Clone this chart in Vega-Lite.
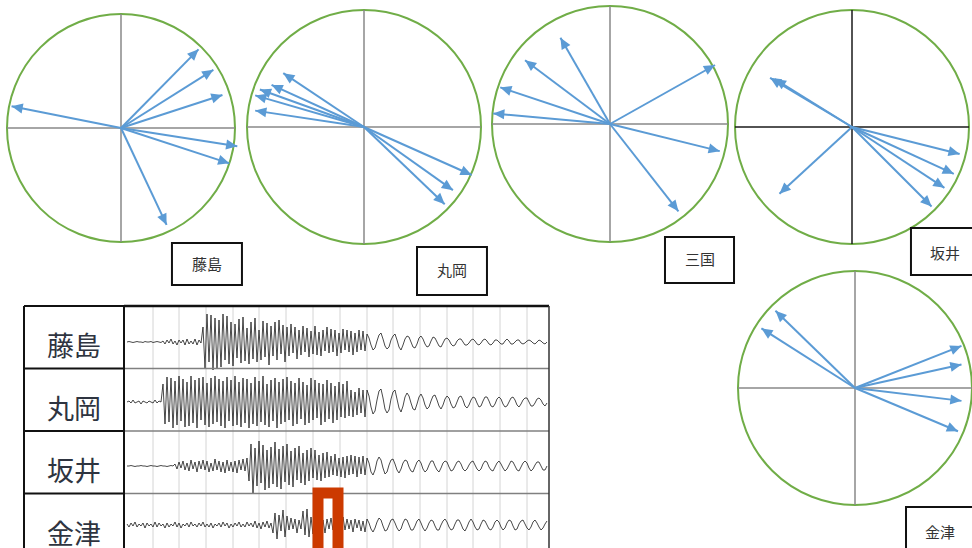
{
"$schema":"https://vega.github.io/schema/vega-lite/v6.json",
"width":972,"height":548,"autosize":{"type":"none"},"padding":0,"background":"white",
"config":{"view":{"stroke":null},"axis":{"disable":true},"font":"Noto Sans CJK JP"},
"datasets":{
"arrows":[
{"station":"藤島","x":0.68,"y":0.69,"az":45},{"station":"藤島","x":0.81,"y":0.51,"az":58},{"station":"藤島","x":0.89,"y":0.29,"az":72},{"station":"藤島","x":1.02,"y":-0.16,"az":99},{"station":"藤島","x":0.95,"y":-0.31,"az":108},{"station":"藤島","x":0.40,"y":-0.85,"az":155},{"station":"藤島","x":-0.96,"y":0.19,"az":281},
{"station":"丸岡","x":-0.69,"y":0.46,"az":304},{"station":"丸岡","x":-0.79,"y":0.36,"az":295},{"station":"丸岡","x":-0.89,"y":0.32,"az":290},{"station":"丸岡","x":-0.93,"y":0.27,"az":286},{"station":"丸岡","x":-0.93,"y":0.14,"az":279},{"station":"丸岡","x":0.92,"y":-0.41,"az":114},{"station":"丸岡","x":0.76,"y":-0.54,"az":125},{"station":"丸岡","x":0.69,"y":-0.66,"az":134},
{"station":"三国","x":-0.42,"y":0.73,"az":330},{"station":"三国","x":-0.72,"y":0.54,"az":307},{"station":"三国","x":-0.93,"y":0.31,"az":288},{"station":"三国","x":-0.99,"y":0.09,"az":275},{"station":"三国","x":0.89,"y":0.50,"az":61},{"station":"三国","x":0.93,"y":-0.23,"az":104},{"station":"三国","x":0.58,"y":-0.74,"az":142},
{"station":"坂井","x":-0.70,"y":0.42,"az":301},{"station":"坂井","x":-0.66,"y":0.41,"az":302},{"station":"坂井","x":-0.62,"y":-0.57,"az":227},{"station":"坂井","x":0.92,"y":-0.23,"az":104},{"station":"坂井","x":0.87,"y":-0.40,"az":115},{"station":"坂井","x":0.79,"y":-0.52,"az":123},{"station":"坂井","x":0.68,"y":-0.68,"az":135},
{"station":"金津","x":-0.68,"y":0.66,"az":314},{"station":"金津","x":-0.80,"y":0.51,"az":303},{"station":"金津","x":0.91,"y":0.36,"az":68},{"station":"金津","x":0.91,"y":0.20,"az":78},{"station":"金津","x":0.91,"y":-0.11,"az":97},{"station":"金津","x":0.88,"y":-0.37,"az":113}
],
"table":[{"station":"藤島","row":0},{"station":"丸岡","row":1},{"station":"坂井","row":2},{"station":"金津","row":3}],
"grid":[{"t":13},{"t":26},{"t":39.5},{"t":53},{"t":66},{"t":79.5},{"t":93},{"t":106.5},{"t":120},{"t":133},{"t":146.5},{"t":160},{"t":173},{"t":186.5},{"t":200}],
"traces":[
{"t":0,"a":0,"b":0,"c":0,"d":1},{"t":1,"a":0.5,"b":1,"c":0,"d":-2},{"t":2,"a":0,"b":-1,"c":0.5,"d":2},{"t":3,"a":-0.5,"b":2,"c":0,"d":-1},{"t":4,"a":0,"b":-1,"c":-0.5,"d":3},{"t":5,"a":0.5,"b":0,"c":0,"d":-2},{"t":6,"a":0,"b":1,"c":0,"d":1},{"t":7,"a":0,"b":-2,"c":0.5,"d":-1},{"t":8,"a":-0.5,"b":1,"c":0,"d":2},{"t":9,"a":0.5,"b":0,"c":0,"d":-3},
{"t":10,"a":0,"b":-1,"c":-0.5,"d":2},{"t":11,"a":0,"b":1,"c":0,"d":-1},{"t":12,"a":0.5,"b":0,"c":0.5,"d":1},{"t":13,"a":-0.5,"b":-1,"c":0,"d":-2},{"t":14,"a":0,"b":2,"c":0,"d":3},{"t":15,"a":0.5,"b":-1,"c":-0.5,"d":-2},{"t":16,"a":0,"b":1,"c":0,"d":2},{"t":17,"a":-0.5,"b":0,"c":0.5,"d":-1},{"t":18,"a":1,"b":18,"c":0,"d":1},{"t":19,"a":-2,"b":-22,"c":0,"d":-3},
{"t":20,"a":2,"b":25,"c":-0.5,"d":2},{"t":21,"a":-1,"b":-20,"c":0,"d":-2},{"t":22,"a":3,"b":24,"c":0.5,"d":1},{"t":23,"a":-2,"b":-26,"c":0,"d":-1},{"t":24,"a":1,"b":21,"c":2,"d":3},{"t":25,"a":-3,"b":-23,"c":-3,"d":-2},{"t":26,"a":2,"b":26,"c":4,"d":2},{"t":27,"a":-1,"b":-19,"c":-2,"d":-3},{"t":28,"a":2,"b":23,"c":5,"d":1},{"t":29,"a":-3,"b":-25,"c":-4,"d":-1},
{"t":30,"a":3,"b":20,"c":3,"d":2},{"t":31,"a":-2,"b":-24,"c":-5,"d":-2},{"t":32,"a":1,"b":26,"c":6,"d":3},{"t":33,"a":-2,"b":-21,"c":-3,"d":-1},{"t":34,"a":3,"b":22,"c":4,"d":1},{"t":35,"a":-3,"b":-26,"c":-6,"d":-2},{"t":36,"a":2,"b":24,"c":5,"d":2},{"t":37,"a":-1,"b":-18,"c":-3,"d":-1},{"t":38,"a":15,"b":25,"c":6,"d":3},{"t":39,"a":-26,"b":-23,"c":-4,"d":-2},
{"t":40,"a":28,"b":19,"c":5,"d":1},{"t":41,"a":-20,"b":-25,"c":-6,"d":-2},{"t":42,"a":27,"b":24,"c":3,"d":2},{"t":43,"a":-28,"b":-22,"c":-5,"d":-3},{"t":44,"a":24,"b":26,"c":7,"d":1},{"t":45,"a":-27,"b":-20,"c":-4,"d":-1},{"t":46,"a":22,"b":23,"c":5,"d":2},{"t":47,"a":-25,"b":-24,"c":-6,"d":-2},{"t":48,"a":28,"b":21,"c":4,"d":3},{"t":49,"a":-18,"b":-26,"c":-7,"d":-1},
{"t":50,"a":26,"b":25,"c":6,"d":2},{"t":51,"a":-22,"b":-19,"c":-5,"d":-3},{"t":52,"a":20,"b":22,"c":4,"d":1},{"t":53,"a":-24,"b":-24,"c":-6,"d":-2},{"t":54,"a":18,"b":26,"c":5,"d":2},{"t":55,"a":-16,"b":-23,"c":-7,"d":-1},{"t":56,"a":23,"b":20,"c":6,"d":3},{"t":57,"a":-21,"b":-25,"c":-4,"d":-2},{"t":58,"a":25,"b":24,"c":7,"d":1},{"t":59,"a":-19,"b":-21,"c":-5,"d":-2},
{"t":60,"a":14,"b":23,"c":8,"d":3},{"t":61,"a":-22,"b":-26,"c":-15,"d":-1},{"t":62,"a":20,"b":19,"c":22,"d":2},{"t":63,"a":-17,"b":-22,"c":-28,"d":-2},{"t":64,"a":24,"b":25,"c":18,"d":4},{"t":65,"a":-20,"b":-24,"c":-20,"d":-3},{"t":66,"a":12,"b":21,"c":25,"d":2},{"t":67,"a":-18,"b":-20,"c":-17,"d":-4},{"t":68,"a":21,"b":26,"c":21,"d":3},{"t":69,"a":-15,"b":-23,"c":-24,"d":-2},
{"t":70,"a":19,"b":18,"c":16,"d":4},{"t":71,"a":-23,"b":-25,"c":-22,"d":-3},{"t":72,"a":16,"b":22,"c":19,"d":2},{"t":73,"a":-14,"b":-19,"c":-18,"d":-8},{"t":74,"a":20,"b":24,"c":24,"d":12},{"t":75,"a":-18,"b":-26,"c":-21,"d":-14},{"t":76,"a":22,"b":20,"c":17,"d":10},{"t":77,"a":-12,"b":-22,"c":-23,"d":-6},{"t":78,"a":17,"b":23,"c":20,"d":15},{"t":79,"a":-20,"b":-20,"c":-16,"d":-12},
{"t":80,"a":15,"b":25,"c":22,"d":9},{"t":81,"a":-14,"b":-18,"c":-19,"d":-5},{"t":82,"a":18,"b":21,"c":15,"d":7},{"t":83,"a":-11,"b":-24,"c":-21,"d":-4},{"t":84,"a":15,"b":19,"c":18,"d":6},{"t":85,"a":-17,"b":-22,"c":-14,"d":-8},{"t":86,"a":12,"b":24,"c":20,"d":5},{"t":87,"a":-13,"b":-17,"c":-17,"d":-4},{"t":88,"a":16,"b":20,"c":13,"d":14},{"t":89,"a":-10,"b":-23,"c":-19,"d":-10},
{"t":90,"a":14,"b":17,"c":16,"d":16},{"t":91,"a":-15,"b":-21,"c":-15,"d":-12},{"t":92,"a":11,"b":24,"c":18,"d":8},{"t":93,"a":-12,"b":-18,"c":-12,"d":-9},{"t":94,"a":16,"b":22,"c":16,"d":6},{"t":95,"a":-13,"b":-16,"c":-14,"d":-5},{"t":96,"a":10,"b":19,"c":11,"d":7},{"t":97,"a":-14,"b":-23,"c":-15,"d":-6},{"t":98,"a":12,"b":18,"c":13,"d":5},{"t":99,"a":-9,"b":-20,"c":-12,"d":-8},
{"t":100,"a":15,"b":22,"c":14,"d":6},{"t":101,"a":-11,"b":-17,"c":-11,"d":-4},{"t":102,"a":13,"b":19,"c":10,"d":7},{"t":103,"a":-10,"b":-21,"c":-9,"d":-5},{"t":104,"a":12,"b":16,"c":12,"d":6},{"t":105,"a":-14,"b":-18,"c":-10,"d":-7},{"t":106,"a":9,"b":20,"c":8,"d":4},{"t":107,"a":-11,"b":-15,"c":-11,"d":-6},{"t":108,"a":13,"b":18,"c":9,"d":8},{"t":109,"a":-8,"b":-16,"c":-12,"d":-5},
{"t":110,"a":12,"b":21,"c":10,"d":6},{"t":111,"a":-10,"b":-14,"c":-9,"d":-4},{"t":112,"a":11,"b":12,"c":11,"d":5},{"t":113,"a":-13,"b":-15,"c":-8,"d":-7},{"t":114,"a":9,"b":10,"c":10,"d":6},{"t":115,"a":-10,"b":-13,"c":-11,"d":-3},{"t":116,"a":12,"b":14,"c":9,"d":5},{"t":117,"a":-8,"b":-11,"c":-8,"d":-6},{"t":118,"a":11,"b":12,"c":10,"d":4},{"t":119,"a":-9,"b":-15,"c":-9,"d":-7},
{"t":120,"a":8,"b":12,"c":8,"d":6},{"t":121,"a":4,"b":6,"c":3,"d":2},{"t":122,"a":-3,"b":-5,"c":-6,"d":-4},{"t":123,"a":-8,"b":-12,"c":-9,"d":-7},{"t":124,"a":-6,"b":-9,"c":-4,"d":-3},{"t":125,"a":1,"b":2,"c":5,"d":3},{"t":126,"a":7,"b":11,"c":9,"d":7},{"t":127,"a":9,"b":13,"c":6,"d":5},{"t":128,"a":3,"b":4,"c":-2,"d":-1},{"t":129,"a":-4,"b":-7,"c":-8,"d":-6},
{"t":130,"a":-7,"b":-11,"c":-6,"d":-5},{"t":131,"a":-5,"b":-8,"c":1,"d":0},{"t":132,"a":2,"b":3,"c":6,"d":5},{"t":133,"a":6,"b":10,"c":7,"d":6},{"t":134,"a":8,"b":12,"c":2,"d":2},{"t":135,"a":2,"b":3,"c":-4,"d":-3},{"t":136,"a":-5,"b":-6,"c":-7,"d":-6},{"t":137,"a":-8,"b":-10,"c":-3,"d":-4},{"t":138,"a":-3,"b":-4,"c":3,"d":2},{"t":139,"a":3,"b":5,"c":6,"d":6},
{"t":140,"a":6,"b":9,"c":5,"d":5},{"t":141,"a":5,"b":6,"c":-1,"d":0},{"t":142,"a":0,"b":-1,"c":-5,"d":-5},{"t":143,"a":-5,"b":-7,"c":-6,"d":-5},{"t":144,"a":-6,"b":-8,"c":-1,"d":-1},{"t":145,"a":-2,"b":-2,"c":4,"d":4},{"t":146,"a":4,"b":5,"c":6,"d":6},{"t":147,"a":6,"b":8,"c":3,"d":2},{"t":148,"a":3,"b":4,"c":-3,"d":-3},{"t":149,"a":-2,"b":-3,"c":-6,"d":-6},
{"t":150,"a":-5,"b":-7,"c":-4,"d":-3},{"t":151,"a":-4,"b":-5,"c":1,"d":2},{"t":152,"a":1,"b":1,"c":5,"d":5},{"t":153,"a":5,"b":6,"c":5,"d":4},{"t":154,"a":4,"b":7,"c":0,"d":-1},{"t":155,"a":0,"b":2,"c":-4,"d":-5},{"t":156,"a":-4,"b":-4,"c":-6,"d":-5},{"t":157,"a":-5,"b":-7,"c":-2,"d":0},{"t":158,"a":-1,"b":-3,"c":3,"d":4},{"t":159,"a":3,"b":3,"c":5,"d":6},
{"t":160,"a":4,"b":6,"c":4,"d":3},{"t":161,"a":2,"b":4,"c":-1,"d":-2},{"t":162,"a":-2,"b":-2,"c":-5,"d":-5},{"t":163,"a":-4,"b":-6,"c":-4,"d":-4},{"t":164,"a":-3,"b":-5,"c":0,"d":1},{"t":165,"a":1,"b":0,"c":4,"d":5},{"t":166,"a":3,"b":5,"c":5,"d":5},{"t":167,"a":3,"b":6,"c":2,"d":1},{"t":168,"a":0,"b":2,"c":-3,"d":-4},{"t":169,"a":-3,"b":-4,"c":-5,"d":-6},
{"t":170,"a":-3,"b":-6,"c":-3,"d":-2},{"t":171,"a":-1,"b":-3,"c":1,"d":3},{"t":172,"a":2,"b":2,"c":4,"d":6},{"t":173,"a":3,"b":5,"c":5,"d":3},{"t":174,"a":1,"b":4,"c":1,"d":-2},{"t":175,"a":-2,"b":-1,"c":-3,"d":-5},{"t":176,"a":-3,"b":-5,"c":-5,"d":-4},{"t":177,"a":-1,"b":-4,"c":-3,"d":1},{"t":178,"a":2,"b":1,"c":2,"d":5},{"t":179,"a":3,"b":5,"c":5,"d":4},
{"t":180,"a":1,"b":5,"c":4,"d":0},{"t":181,"a":-2,"b":1,"c":-1,"d":-4},{"t":182,"a":-3,"b":-4,"c":-4,"d":-5},{"t":183,"a":-1,"b":-5,"c":-5,"d":-2},{"t":184,"a":2,"b":-2,"c":-1,"d":3},{"t":185,"a":2,"b":3,"c":3,"d":5},{"t":186,"a":0,"b":5,"c":5,"d":3},{"t":187,"a":-2,"b":3,"c":2,"d":-2},{"t":188,"a":-2,"b":-2,"c":-2,"d":-5},{"t":189,"a":1,"b":-5,"c":-5,"d":-3},
{"t":190,"a":3,"b":-4,"c":-3,"d":2},{"t":191,"a":1,"b":0,"c":1,"d":5},{"t":192,"a":-2,"b":4,"c":5,"d":4},{"t":193,"a":-2,"b":5,"c":4,"d":-1},{"t":194,"a":0,"b":2,"c":0,"d":-5},{"t":195,"a":2,"b":-3,"c":-4,"d":-4},{"t":196,"a":2,"b":-5,"c":-5,"d":1},{"t":197,"a":-1,"b":-2,"c":-1,"d":4},{"t":198,"a":-2,"b":2,"c":3,"d":5},{"t":199,"a":-1,"b":4,"c":5,"d":1},
{"t":200,"a":1,"b":4,"c":3,"d":-3},{"t":201,"a":2,"b":0,"c":-2,"d":-5},{"t":202,"a":1,"b":-4,"c":-5,"d":-2},{"t":203,"a":-1,"b":-4,"c":-3,"d":3},{"t":204,"a":-2,"b":-1,"c":1,"d":5},{"t":205,"a":0,"b":3,"c":4,"d":2},{"t":206,"a":2,"b":4,"c":4,"d":-2},{"t":207,"a":1,"b":2,"c":0,"d":-5},{"t":208,"a":-1,"b":-2,"c":-4,"d":-3},{"t":209,"a":-2,"b":-4,"c":-4,"d":1},{"t":210,"a":0,"b":-1,"c":0,"d":4}
]
},
"resolve":{"scale":{"x":"independent","y":"independent"}},
"layer":[
{"layer":[
 {"data":{"values":[{}]},"mark":{"type":"point","shape":"circle","size":51984,"filled":false,"color":"#70AD47","strokeWidth":2,"opacity":1},"encoding":{"x":{"datum":0,"type":"quantitative","scale":{"domain":[-1,1],"range":[7,235],"nice":false,"zero":false}},"y":{"datum":0,"type":"quantitative","scale":{"domain":[-1,1],"range":[242,14],"nice":false,"zero":false}}}},
 {"data":{"values":[{}]},"mark":{"type":"rule","color":"#888888","strokeWidth":1.5},"encoding":{"x":{"datum":-1,"type":"quantitative","scale":{"domain":[-1,1],"range":[7,235],"nice":false,"zero":false}},"x2":{"datum":1},"y":{"datum":0,"type":"quantitative","scale":{"domain":[-1,1],"range":[242,14],"nice":false,"zero":false}}}},
 {"data":{"values":[{}]},"mark":{"type":"rule","color":"#888888","strokeWidth":1.5},"encoding":{"x":{"datum":0,"type":"quantitative","scale":{"domain":[-1,1],"range":[7,235],"nice":false,"zero":false}},"y":{"datum":-1,"type":"quantitative","scale":{"domain":[-1,1],"range":[242,14],"nice":false,"zero":false}},"y2":{"datum":1}}},
 {"data":{"name":"arrows"},"transform":[{"filter":"datum.station === '藤島'"}],"mark":{"type":"rule","color":"#5B9BD5","strokeWidth":2},"encoding":{"x":{"field":"x","type":"quantitative","scale":{"domain":[-1,1],"range":[7,235],"nice":false,"zero":false}},"x2":{"datum":0},"y":{"field":"y","type":"quantitative","scale":{"domain":[-1,1],"range":[242,14],"nice":false,"zero":false}},"y2":{"datum":0}}},
 {"data":{"name":"arrows"},"transform":[{"filter":"datum.station === '藤島'"}],"mark":{"type":"point","shape":"M0,0L-0.45,1L0.45,1Z","size":500,"filled":true,"color":"#5B9BD5","opacity":1},"encoding":{"x":{"field":"x","type":"quantitative","scale":{"domain":[-1,1],"range":[7,235],"nice":false,"zero":false}},"y":{"field":"y","type":"quantitative","scale":{"domain":[-1,1],"range":[242,14],"nice":false,"zero":false}},"angle":{"field":"az","type":"quantitative","scale":null}}},
 {"data":{"values":[{}]},"mark":{"type":"rect","fill":"white","stroke":"#111111","strokeWidth":2},"encoding":{"x":{"datum":0.447,"type":"quantitative","scale":{"domain":[-1,1],"range":[7,235],"nice":false,"zero":false}},"x2":{"datum":1.061},"y":{"datum":-1.009,"type":"quantitative","scale":{"domain":[-1,1],"range":[242,14],"nice":false,"zero":false}},"y2":{"datum":-1.377}}},
 {"data":{"values":[{"station":"藤島"}]},"mark":{"type":"text","fontSize":15,"color":"#333333","align":"center","baseline":"middle"},"encoding":{"x":{"datum":0.754,"type":"quantitative","scale":{"domain":[-1,1],"range":[7,235],"nice":false,"zero":false}},"y":{"datum":-1.2,"type":"quantitative","scale":{"domain":[-1,1],"range":[242,14],"nice":false,"zero":false}},"text":{"field":"station"}}}
]},
{"layer":[
 {"data":{"values":[{}]},"mark":{"type":"point","shape":"circle","size":54756,"filled":false,"color":"#70AD47","strokeWidth":2,"opacity":1},"encoding":{"x":{"datum":0,"type":"quantitative","scale":{"domain":[-1,1],"range":[247,481],"nice":false,"zero":false}},"y":{"datum":0,"type":"quantitative","scale":{"domain":[-1,1],"range":[244,10],"nice":false,"zero":false}}}},
 {"data":{"values":[{}]},"mark":{"type":"rule","color":"#888888","strokeWidth":1.5},"encoding":{"x":{"datum":-1,"type":"quantitative","scale":{"domain":[-1,1],"range":[247,481],"nice":false,"zero":false}},"x2":{"datum":1},"y":{"datum":0,"type":"quantitative","scale":{"domain":[-1,1],"range":[244,10],"nice":false,"zero":false}}}},
 {"data":{"values":[{}]},"mark":{"type":"rule","color":"#888888","strokeWidth":1.5},"encoding":{"x":{"datum":0,"type":"quantitative","scale":{"domain":[-1,1],"range":[247,481],"nice":false,"zero":false}},"y":{"datum":-1,"type":"quantitative","scale":{"domain":[-1,1],"range":[244,10],"nice":false,"zero":false}},"y2":{"datum":1}}},
 {"data":{"name":"arrows"},"transform":[{"filter":"datum.station === '丸岡'"}],"mark":{"type":"rule","color":"#5B9BD5","strokeWidth":2},"encoding":{"x":{"field":"x","type":"quantitative","scale":{"domain":[-1,1],"range":[247,481],"nice":false,"zero":false}},"x2":{"datum":0},"y":{"field":"y","type":"quantitative","scale":{"domain":[-1,1],"range":[244,10],"nice":false,"zero":false}},"y2":{"datum":0}}},
 {"data":{"name":"arrows"},"transform":[{"filter":"datum.station === '丸岡'"}],"mark":{"type":"point","shape":"M0,0L-0.45,1L0.45,1Z","size":500,"filled":true,"color":"#5B9BD5","opacity":1},"encoding":{"x":{"field":"x","type":"quantitative","scale":{"domain":[-1,1],"range":[247,481],"nice":false,"zero":false}},"y":{"field":"y","type":"quantitative","scale":{"domain":[-1,1],"range":[244,10],"nice":false,"zero":false}},"angle":{"field":"az","type":"quantitative","scale":null}}},
 {"data":{"values":[{}]},"mark":{"type":"rect","fill":"white","stroke":"#111111","strokeWidth":2},"encoding":{"x":{"datum":0.453,"type":"quantitative","scale":{"domain":[-1,1],"range":[247,481],"nice":false,"zero":false}},"x2":{"datum":1.051},"y":{"datum":-1.026,"type":"quantitative","scale":{"domain":[-1,1],"range":[244,10],"nice":false,"zero":false}},"y2":{"datum":-1.436}}},
 {"data":{"values":[{"station":"丸岡"}]},"mark":{"type":"text","fontSize":15,"color":"#333333","align":"center","baseline":"middle"},"encoding":{"x":{"datum":0.752,"type":"quantitative","scale":{"domain":[-1,1],"range":[247,481],"nice":false,"zero":false}},"y":{"datum":-1.231,"type":"quantitative","scale":{"domain":[-1,1],"range":[244,10],"nice":false,"zero":false}},"text":{"field":"station"}}}
]},
{"layer":[
 {"data":{"values":[{}]},"mark":{"type":"point","shape":"circle","size":55696,"filled":false,"color":"#70AD47","strokeWidth":2,"opacity":1},"encoding":{"x":{"datum":0,"type":"quantitative","scale":{"domain":[-1,1],"range":[492,728],"nice":false,"zero":false}},"y":{"datum":0,"type":"quantitative","scale":{"domain":[-1,1],"range":[242,6],"nice":false,"zero":false}}}},
 {"data":{"values":[{}]},"mark":{"type":"rule","color":"#888888","strokeWidth":1.5},"encoding":{"x":{"datum":-1,"type":"quantitative","scale":{"domain":[-1,1],"range":[492,728],"nice":false,"zero":false}},"x2":{"datum":1},"y":{"datum":0,"type":"quantitative","scale":{"domain":[-1,1],"range":[242,6],"nice":false,"zero":false}}}},
 {"data":{"values":[{}]},"mark":{"type":"rule","color":"#888888","strokeWidth":1.5},"encoding":{"x":{"datum":0,"type":"quantitative","scale":{"domain":[-1,1],"range":[492,728],"nice":false,"zero":false}},"y":{"datum":-1,"type":"quantitative","scale":{"domain":[-1,1],"range":[242,6],"nice":false,"zero":false}},"y2":{"datum":1}}},
 {"data":{"name":"arrows"},"transform":[{"filter":"datum.station === '三国'"}],"mark":{"type":"rule","color":"#5B9BD5","strokeWidth":2},"encoding":{"x":{"field":"x","type":"quantitative","scale":{"domain":[-1,1],"range":[492,728],"nice":false,"zero":false}},"x2":{"datum":0},"y":{"field":"y","type":"quantitative","scale":{"domain":[-1,1],"range":[242,6],"nice":false,"zero":false}},"y2":{"datum":0}}},
 {"data":{"name":"arrows"},"transform":[{"filter":"datum.station === '三国'"}],"mark":{"type":"point","shape":"M0,0L-0.45,1L0.45,1Z","size":500,"filled":true,"color":"#5B9BD5","opacity":1},"encoding":{"x":{"field":"x","type":"quantitative","scale":{"domain":[-1,1],"range":[492,728],"nice":false,"zero":false}},"y":{"field":"y","type":"quantitative","scale":{"domain":[-1,1],"range":[242,6],"nice":false,"zero":false}},"angle":{"field":"az","type":"quantitative","scale":null}}},
 {"data":{"values":[{}]},"mark":{"type":"rect","fill":"white","stroke":"#111111","strokeWidth":2},"encoding":{"x":{"datum":0.466,"type":"quantitative","scale":{"domain":[-1,1],"range":[492,728],"nice":false,"zero":false}},"x2":{"datum":1.051},"y":{"datum":-0.958,"type":"quantitative","scale":{"domain":[-1,1],"range":[242,6],"nice":false,"zero":false}},"y2":{"datum":-1.347}}},
 {"data":{"values":[{"station":"三国"}]},"mark":{"type":"text","fontSize":15,"color":"#333333","align":"center","baseline":"middle"},"encoding":{"x":{"datum":0.763,"type":"quantitative","scale":{"domain":[-1,1],"range":[492,728],"nice":false,"zero":false}},"y":{"datum":-1.153,"type":"quantitative","scale":{"domain":[-1,1],"range":[242,6],"nice":false,"zero":false}},"text":{"field":"station"}}}
]},
{"layer":[
 {"data":{"values":[{}]},"mark":{"type":"point","shape":"circle","size":54756,"filled":false,"color":"#70AD47","strokeWidth":2,"opacity":1},"encoding":{"x":{"datum":0,"type":"quantitative","scale":{"domain":[-1,1],"range":[735,969],"nice":false,"zero":false}},"y":{"datum":0,"type":"quantitative","scale":{"domain":[-1,1],"range":[244,10],"nice":false,"zero":false}}}},
 {"data":{"values":[{}]},"mark":{"type":"rule","color":"#1a1a1a","strokeWidth":1.5},"encoding":{"x":{"datum":-1,"type":"quantitative","scale":{"domain":[-1,1],"range":[735,969],"nice":false,"zero":false}},"x2":{"datum":1},"y":{"datum":0,"type":"quantitative","scale":{"domain":[-1,1],"range":[244,10],"nice":false,"zero":false}}}},
 {"data":{"values":[{}]},"mark":{"type":"rule","color":"#1a1a1a","strokeWidth":1.5},"encoding":{"x":{"datum":0,"type":"quantitative","scale":{"domain":[-1,1],"range":[735,969],"nice":false,"zero":false}},"y":{"datum":-1,"type":"quantitative","scale":{"domain":[-1,1],"range":[244,10],"nice":false,"zero":false}},"y2":{"datum":1}}},
 {"data":{"name":"arrows"},"transform":[{"filter":"datum.station === '坂井'"}],"mark":{"type":"rule","color":"#5B9BD5","strokeWidth":2},"encoding":{"x":{"field":"x","type":"quantitative","scale":{"domain":[-1,1],"range":[735,969],"nice":false,"zero":false}},"x2":{"datum":0},"y":{"field":"y","type":"quantitative","scale":{"domain":[-1,1],"range":[244,10],"nice":false,"zero":false}},"y2":{"datum":0}}},
 {"data":{"name":"arrows"},"transform":[{"filter":"datum.station === '坂井'"}],"mark":{"type":"point","shape":"M0,0L-0.45,1L0.45,1Z","size":500,"filled":true,"color":"#5B9BD5","opacity":1},"encoding":{"x":{"field":"x","type":"quantitative","scale":{"domain":[-1,1],"range":[735,969],"nice":false,"zero":false}},"y":{"field":"y","type":"quantitative","scale":{"domain":[-1,1],"range":[244,10],"nice":false,"zero":false}},"angle":{"field":"az","type":"quantitative","scale":null}}},
 {"data":{"values":[{}]},"mark":{"type":"rect","fill":"white","stroke":"#111111","strokeWidth":2},"encoding":{"x":{"datum":0.504,"type":"quantitative","scale":{"domain":[-1,1],"range":[735,969],"nice":false,"zero":false}},"x2":{"datum":1.094},"y":{"datum":-0.863,"type":"quantitative","scale":{"domain":[-1,1],"range":[244,10],"nice":false,"zero":false}},"y2":{"datum":-1.265}}},
 {"data":{"values":[{"station":"坂井"}]},"mark":{"type":"text","fontSize":15,"color":"#333333","align":"center","baseline":"middle"},"encoding":{"x":{"datum":0.795,"type":"quantitative","scale":{"domain":[-1,1],"range":[735,969],"nice":false,"zero":false}},"y":{"datum":-1.085,"type":"quantitative","scale":{"domain":[-1,1],"range":[244,10],"nice":false,"zero":false}},"text":{"field":"station"}}}
]},
{"layer":[
 {"data":{"values":[{}]},"mark":{"type":"point","shape":"circle","size":54756,"filled":false,"color":"#70AD47","strokeWidth":2,"opacity":1},"encoding":{"x":{"datum":0,"type":"quantitative","scale":{"domain":[-1,1],"range":[738,972],"nice":false,"zero":false}},"y":{"datum":0,"type":"quantitative","scale":{"domain":[-1,1],"range":[505,271],"nice":false,"zero":false}}}},
 {"data":{"values":[{}]},"mark":{"type":"rule","color":"#888888","strokeWidth":1.5},"encoding":{"x":{"datum":-1,"type":"quantitative","scale":{"domain":[-1,1],"range":[738,972],"nice":false,"zero":false}},"x2":{"datum":1},"y":{"datum":0,"type":"quantitative","scale":{"domain":[-1,1],"range":[505,271],"nice":false,"zero":false}}}},
 {"data":{"values":[{}]},"mark":{"type":"rule","color":"#888888","strokeWidth":1.5},"encoding":{"x":{"datum":0,"type":"quantitative","scale":{"domain":[-1,1],"range":[738,972],"nice":false,"zero":false}},"y":{"datum":-1,"type":"quantitative","scale":{"domain":[-1,1],"range":[505,271],"nice":false,"zero":false}},"y2":{"datum":1}}},
 {"data":{"name":"arrows"},"transform":[{"filter":"datum.station === '金津'"}],"mark":{"type":"rule","color":"#5B9BD5","strokeWidth":2},"encoding":{"x":{"field":"x","type":"quantitative","scale":{"domain":[-1,1],"range":[738,972],"nice":false,"zero":false}},"x2":{"datum":0},"y":{"field":"y","type":"quantitative","scale":{"domain":[-1,1],"range":[505,271],"nice":false,"zero":false}},"y2":{"datum":0}}},
 {"data":{"name":"arrows"},"transform":[{"filter":"datum.station === '金津'"}],"mark":{"type":"point","shape":"M0,0L-0.45,1L0.45,1Z","size":500,"filled":true,"color":"#5B9BD5","opacity":1},"encoding":{"x":{"field":"x","type":"quantitative","scale":{"domain":[-1,1],"range":[738,972],"nice":false,"zero":false}},"y":{"field":"y","type":"quantitative","scale":{"domain":[-1,1],"range":[505,271],"nice":false,"zero":false}},"angle":{"field":"az","type":"quantitative","scale":null}}},
 {"data":{"values":[{}]},"mark":{"type":"rect","fill":"white","stroke":"#111111","strokeWidth":2},"encoding":{"x":{"datum":0.436,"type":"quantitative","scale":{"domain":[-1,1],"range":[738,972],"nice":false,"zero":false}},"x2":{"datum":1.068},"y":{"datum":-1.017,"type":"quantitative","scale":{"domain":[-1,1],"range":[505,271],"nice":false,"zero":false}},"y2":{"datum":-1.47}}},
 {"data":{"values":[{"station":"金津"}]},"mark":{"type":"text","fontSize":15,"color":"#333333","align":"center","baseline":"middle"},"encoding":{"x":{"datum":0.726,"type":"quantitative","scale":{"domain":[-1,1],"range":[738,972],"nice":false,"zero":false}},"y":{"datum":-1.239,"type":"quantitative","scale":{"domain":[-1,1],"range":[505,271],"nice":false,"zero":false}},"text":{"field":"station"}}}
]},
{"resolve":{"scale":{"y":"independent"}},
 "layer":[
 {"data":{"name":"grid"},"mark":{"type":"rule","color":"#d4d4d4","strokeWidth":1},"encoding":{"x":{"field":"t","type":"quantitative","scale":{"domain":[-51.5,211],"range":[24,549],"nice":false,"zero":false}},"y":{"datum":0,"type":"quantitative","scale":{"domain":[0,4],"range":[306,556],"nice":false,"zero":false}},"y2":{"datum":4}}},
 {"data":{"name":"traces"},"mark":{"type":"line","color":"#1a1a1a","strokeWidth":0.8},"encoding":{"x":{"field":"t","type":"quantitative","scale":{"domain":[-51.5,211],"range":[24,549],"nice":false,"zero":false}},"y":{"field":"a","type":"quantitative","scale":{"domain":[-30,30],"range":[372,312],"nice":false,"zero":false}}}},
 {"data":{"name":"traces"},"mark":{"type":"line","color":"#1a1a1a","strokeWidth":0.8},"encoding":{"x":{"field":"t","type":"quantitative","scale":{"domain":[-51.5,211],"range":[24,549],"nice":false,"zero":false}},"y":{"field":"b","type":"quantitative","scale":{"domain":[-30,30],"range":[432,372],"nice":false,"zero":false}}}},
 {"data":{"name":"traces"},"mark":{"type":"line","color":"#1a1a1a","strokeWidth":0.8},"encoding":{"x":{"field":"t","type":"quantitative","scale":{"domain":[-51.5,211],"range":[24,549],"nice":false,"zero":false}},"y":{"field":"c","type":"quantitative","scale":{"domain":[-30,30],"range":[496,436],"nice":false,"zero":false}}}},
 {"data":{"name":"traces"},"mark":{"type":"line","color":"#1a1a1a","strokeWidth":0.8},"encoding":{"x":{"field":"t","type":"quantitative","scale":{"domain":[-51.5,211],"range":[24,549],"nice":false,"zero":false}},"y":{"field":"d","type":"quantitative","scale":{"domain":[-30,30],"range":[555,495],"nice":false,"zero":false}}}},
 {"data":{"name":"table"},"transform":[{"filter":"datum.row > 0"}],"mark":{"type":"rule","color":"#808080","strokeWidth":1.5},"encoding":{"x":{"datum":-1.5,"type":"quantitative","scale":{"domain":[-51.5,211],"range":[24,549],"nice":false,"zero":false}},"x2":{"datum":211},"y":{"field":"row","type":"quantitative","scale":{"domain":[0,4],"range":[306,556],"nice":false,"zero":false}}}},
 {"data":{"name":"table"},"mark":{"type":"rule","color":"#111111","strokeWidth":2},"encoding":{"x":{"datum":-51.5,"type":"quantitative","scale":{"domain":[-51.5,211],"range":[24,549],"nice":false,"zero":false}},"x2":{"datum":-1.5},"y":{"field":"row","type":"quantitative","scale":{"domain":[0,4],"range":[306,556],"nice":false,"zero":false}}}},
 {"data":{"values":[{}]},"mark":{"type":"rule","color":"#111111","strokeWidth":2.5},"encoding":{"x":{"datum":-1.5,"type":"quantitative","scale":{"domain":[-51.5,211],"range":[24,549],"nice":false,"zero":false}},"x2":{"datum":211},"y":{"datum":0,"type":"quantitative","scale":{"domain":[0,4],"range":[306,556],"nice":false,"zero":false}}}},
 {"data":{"values":[{}]},"mark":{"type":"rule","color":"#111111","strokeWidth":2},"encoding":{"x":{"datum":-51.5,"type":"quantitative","scale":{"domain":[-51.5,211],"range":[24,549],"nice":false,"zero":false}},"y":{"datum":0,"type":"quantitative","scale":{"domain":[0,4],"range":[306,556],"nice":false,"zero":false}},"y2":{"datum":4}}},
 {"data":{"values":[{}]},"mark":{"type":"rule","color":"#111111","strokeWidth":2},"encoding":{"x":{"datum":-1.5,"type":"quantitative","scale":{"domain":[-51.5,211],"range":[24,549],"nice":false,"zero":false}},"y":{"datum":0,"type":"quantitative","scale":{"domain":[0,4],"range":[306,556],"nice":false,"zero":false}},"y2":{"datum":4}}},
 {"data":{"values":[{}]},"mark":{"type":"rule","color":"#333333","strokeWidth":1.5},"encoding":{"x":{"datum":211,"type":"quantitative","scale":{"domain":[-51.5,211],"range":[24,549],"nice":false,"zero":false}},"y":{"datum":0,"type":"quantitative","scale":{"domain":[0,4],"range":[306,556],"nice":false,"zero":false}},"y2":{"datum":4}}},
 {"data":{"name":"table"},"mark":{"type":"text","fontSize":27,"color":"#2e3440","align":"center","baseline":"middle","dy":42},"encoding":{"x":{"datum":-26.5,"type":"quantitative","scale":{"domain":[-51.5,211],"range":[24,549],"nice":false,"zero":false}},"y":{"field":"row","type":"quantitative","scale":{"domain":[0,4],"range":[306,556],"nice":false,"zero":false}},"text":{"field":"station"}}},
 {"data":{"values":[{}]},"mark":{"type":"rect","fill":null,"fillOpacity":0,"stroke":"#CC3A00","strokeWidth":11},"encoding":{"x":{"datum":95.5,"type":"quantitative","scale":{"domain":[-51.5,211],"range":[24,549],"nice":false,"zero":false}},"x2":{"datum":105.5},"y":{"datum":2.99,"type":"quantitative","scale":{"domain":[0,4],"range":[306,556],"nice":false,"zero":false}},"y2":{"datum":4.2}}}
 ]}
]
}
